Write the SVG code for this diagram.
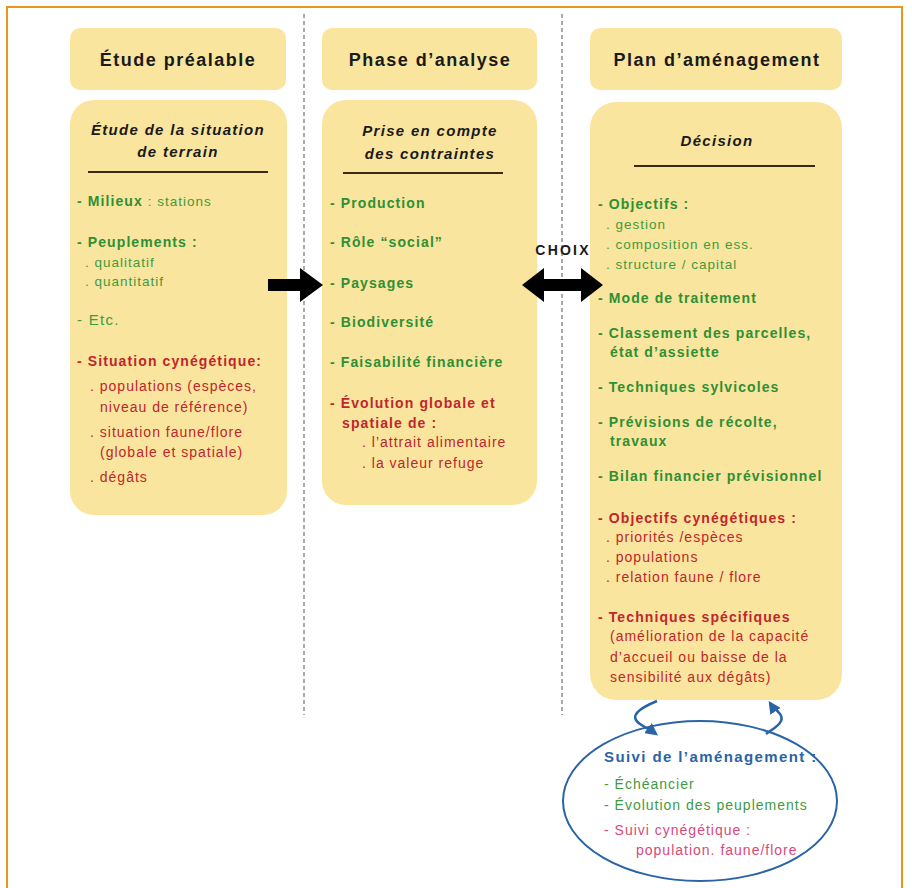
<svg xmlns="http://www.w3.org/2000/svg" width="912" height="888" viewBox="0 0 912 888">
<style>
text{font-family:"Liberation Sans",Arial,sans-serif}
.box{fill:#f9e59e}
.hd{font-size:18px;font-weight:bold;fill:#1a1a1a;text-anchor:middle;letter-spacing:1.5px}
.ti{font-size:15px;font-weight:bold;font-style:italic;fill:#1a1a1a;text-anchor:middle;letter-spacing:1.3px}
.rule{stroke:#3a2a10;stroke-width:2}
.gb{font-size:14px;font-weight:bold;fill:#2f8f35;letter-spacing:1.1px}
.gn{font-size:13.5px;fill:#3f9a3f;letter-spacing:1px}
.rb{font-size:14px;font-weight:bold;fill:#c0262c;letter-spacing:1.1px}
.rn{font-size:14px;fill:#c0262c;letter-spacing:1px}
.div{stroke:#555;stroke-width:1;stroke-dasharray:4 3}
.blue{fill:none;stroke:#2a64a6;stroke-width:2.5}
</style>
<defs>
<marker id="bh" viewBox="0 0 10 10" refX="8" refY="5" markerWidth="5" markerHeight="5" orient="auto"><path d="M0,0 L10,5 L0,10 z" fill="#2a64a6"/></marker>
</defs>
<rect x="7" y="7" width="895" height="895" fill="#fff" stroke="#e8961e" stroke-width="2"/>
<line class="div" x1="304" y1="14" x2="304" y2="715"/>
<line class="div" x1="562" y1="14" x2="562" y2="715"/>

<g id="h1"><rect class="box" x="70" y="28" width="216" height="62" rx="10"/><text class="hd" x="178" y="66">Étude préalable</text></g>
<g id="h2"><rect class="box" x="322" y="28" width="215" height="62" rx="10"/><text class="hd" x="430" y="66">Phase d’analyse</text></g>
<g id="h3"><rect class="box" x="590" y="28" width="252" height="62" rx="10"/><text class="hd" x="717" y="66">Plan d’aménagement</text></g>

<g id="etude">
<rect class="box" x="70" y="100" width="217" height="415" rx="24"/>
<text class="ti" x="178" y="135">Étude de la situation</text>
<text class="ti" x="178" y="157">de terrain</text>
<line class="rule" x1="88" y1="172" x2="268" y2="172"/>
<text x="77" y="206"><tspan class="gb">- Milieux</tspan><tspan class="gn"> : stations</tspan></text>
<text class="gb" x="77" y="247">- Peuplements :</text>
<text class="gn" x="85" y="267">. qualitatif</text>
<text class="gn" x="85" y="286">. quantitatif</text>
<text class="gn" x="77" y="325" style="font-size:15px;letter-spacing:1.3px">- Etc.</text>
<text class="rb" x="77" y="366">- Situation cynégétique:</text>
<text class="rn" x="90" y="391">. populations (espèces,</text>
<text class="rn" x="100" y="412">niveau de référence)</text>
<text class="rn" x="90" y="437">. situation faune/flore</text>
<text class="rn" x="100" y="457">(globale et spatiale)</text>
<text class="rn" x="90" y="482">. dégâts</text>
</g>

<g id="analyse">
<rect class="box" x="322" y="100" width="215" height="405" rx="24"/>
<text class="ti" x="430" y="136">Prise en compte</text>
<text class="ti" x="430" y="159">des contraintes</text>
<line class="rule" x1="343" y1="173" x2="503" y2="173"/>
<text class="gb" x="330" y="208">- Production</text>
<text class="gb" x="330" y="247">- Rôle “social”</text>
<text class="gb" x="330" y="288">- Paysages</text>
<text class="gb" x="330" y="327">- Biodiversité</text>
<text class="gb" x="330" y="367">- Faisabilité financière</text>
<text class="rb" x="330" y="408">- Évolution globale et</text>
<text class="rb" x="342" y="428">spatiale de :</text>
<text class="rn" x="362" y="447">. l’attrait alimentaire</text>
<text class="rn" x="362" y="468">. la valeur refuge</text>
</g>

<g id="plan">
<rect class="box" x="590" y="102" width="252" height="598" rx="26"/>
<text class="ti" x="717" y="146">Décision</text>
<line class="rule" x1="634" y1="166" x2="815" y2="166"/>
<text class="gb" x="598" y="209">- Objectifs :</text>
<text class="gn" x="606" y="229">. gestion</text>
<text class="gn" x="606" y="249">. composition en ess.</text>
<text class="gn" x="606" y="269">. structure / capital</text>
<text class="gb" x="598" y="303">- Mode de traitement</text>
<text class="gb" x="598" y="338">- Classement des parcelles,</text>
<text class="gb" x="610" y="357">état d’assiette</text>
<text class="gb" x="598" y="392">- Techniques sylvicoles</text>
<text class="gb" x="598" y="427">- Prévisions de récolte,</text>
<text class="gb" x="610" y="446">travaux</text>
<text class="gb" x="598" y="481">- Bilan financier prévisionnel</text>
<text class="rb" x="598" y="523">- Objectifs cynégétiques :</text>
<text class="rn" x="606" y="542">. priorités /espèces</text>
<text class="rn" x="606" y="562">. populations</text>
<text class="rn" x="606" y="582">. relation faune / flore</text>
<text class="rb" x="598" y="622">- Techniques spécifiques</text>
<text class="rn" x="610" y="641">(amélioration de la capacité</text>
<text class="rn" x="610" y="662">d’accueil ou baisse de la</text>
<text class="rn" x="610" y="682">sensibilité aux dégâts)</text>
</g>

<g id="suivi">
<ellipse cx="700" cy="801" rx="137" ry="80" fill="#fff" stroke="#2a64a6" stroke-width="2"/>
<text x="604" y="762" style="font-size:15px;font-weight:bold;fill:#2a64a6;letter-spacing:1.4px">Suivi de l’aménagement :</text>
<text class="gn" x="604" y="789" style="font-size:14px">- Échéancier</text>
<text class="gn" x="604" y="810" style="font-size:14px">- Évolution des peuplements</text>
<text x="604" y="835" style="font-size:14px;fill:#d94a78;letter-spacing:1px">- Suivi cynégétique :</text>
<text x="636" y="855" style="font-size:14px;fill:#d94a78;letter-spacing:1px">population. faune/flore</text>
</g>

<g id="connectors">
<path d="M268,279 H300 V268 L323,285 L300,302 V291 H268 Z" fill="#000"/>
<path d="M522,285 L544,268 V279 H581 V268 L603,285 L581,302 V291 H544 V302 Z" fill="#000"/>
<text x="563" y="255" style="font-size:14px;font-weight:bold;fill:#1a1a1a;text-anchor:middle;letter-spacing:2.2px">CHOIX</text>
<path class="blue" d="M657,701 C640,708 628,716 640,724 C646,728 652,731 656,734" marker-end="url(#bh)"/>
<path class="blue" d="M766,734 C774,728 786,722 780,714 C776,709 772,706 770,703" marker-end="url(#bh)"/>
</g>
</svg>
